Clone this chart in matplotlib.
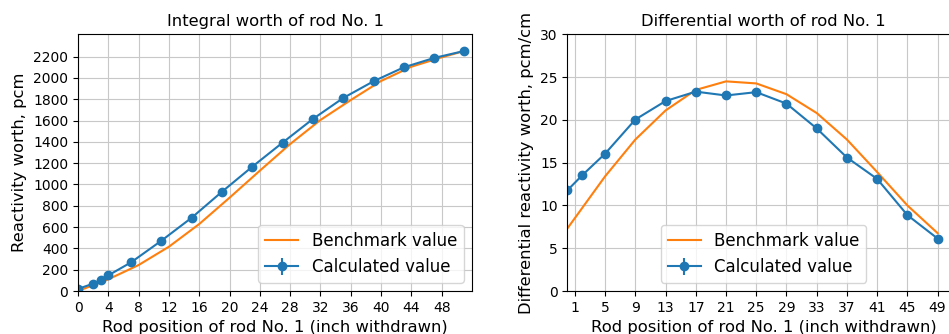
import matplotlib
matplotlib.use("Agg")
import matplotlib.pyplot as plt

# integral worth, rod No. 1
int_calc_x = [0, 2, 3, 4, 7, 11, 15, 19, 23, 27, 31, 35, 39, 43, 47, 51]
int_calc_y = [20, 69, 103, 147, 269, 472, 688, 932, 1167, 1393, 1615, 1812, 1969, 2100, 2188, 2254]
int_calc_err = [0] * len(int_calc_x)
int_bench_x = [0, 4, 8, 12, 16, 20, 24, 28, 32, 36, 40, 44, 48, 51]
int_bench_y = [0, 110, 244, 416, 629, 876, 1130, 1380, 1606, 1793, 1972, 2106, 2194, 2254]

# differential worth, rod No. 1
dif_calc_x = [0, 2, 5, 9, 13, 17, 21, 25, 29, 33, 37, 41, 45, 49]
dif_calc_y = [11.76, 13.55, 16.05, 20.04, 22.2, 23.3, 22.85, 23.24, 21.9, 19.0, 15.6, 13.1, 8.87, 6.13]
dif_calc_err = [0] * len(dif_calc_x)
dif_bench_x = [0, 5, 9, 13, 17, 21, 25, 29, 33, 37, 41, 45, 49]
dif_bench_y = [7.3, 13.4, 17.7, 21.1, 23.5, 24.5, 24.26, 23.0, 20.8, 17.7, 13.9, 10.0, 6.76]

int_ticks = list(range(0, 49, 4))
dif_ticks = list(range(1, 50, 4))

xlabel = "Rod position of rod No. 1 (inch withdrawn)"

fig = plt.figure(figsize=(9.49, 3.34), dpi=100)
ax1 = fig.add_axes([0.0822, 0.1287, 0.4152, 0.7686])
ax2 = fig.add_axes([0.5978, 0.1287, 0.4141, 0.7686])

ax1.plot(int_bench_x, int_bench_y, color="tab:orange", label="Benchmark value")
ax1.errorbar(int_calc_x, int_calc_y, yerr=int_calc_err, marker="o", markersize=6,
             color="tab:blue", label="Calculated value")
ax1.set_xlim(0, 52)
ax1.set_ylim(0, 2410)
ax1.set_xticks(int_ticks)
ax1.set_yticks(range(0, 2201, 200))
ax1.grid(True, color="#c8c8c8")
ax1.set_title("Integral worth of rod No. 1", fontsize=11.8)
ax1.set_xlabel(xlabel, fontsize=11.8)
ax1.set_ylabel("Reactivity worth, pcm", fontsize=11.8)
ax1.legend(loc="lower right", fontsize=12)

ax2.plot(dif_bench_x, dif_bench_y, color="tab:orange", label="Benchmark value")
ax2.errorbar(dif_calc_x, dif_calc_y, yerr=dif_calc_err, marker="o", markersize=6,
             color="tab:blue", label="Calculated value")
ax2.set_xlim(0, 52)
ax2.set_ylim(0, 30)
ax2.set_xticks(dif_ticks)
ax2.grid(True, color="#c8c8c8")
ax2.set_title("Differential worth of rod No. 1", fontsize=11.8)
ax2.set_xlabel(xlabel, fontsize=11.8)
ax2.set_ylabel("Differential reactivity worth, pcm/cm", fontsize=11.8)
ax2.legend(loc="lower center", fontsize=12)

for ax in (ax1, ax2):
    ax.tick_params(labelsize=10)

fig.savefig("out.png", dpi=100)
